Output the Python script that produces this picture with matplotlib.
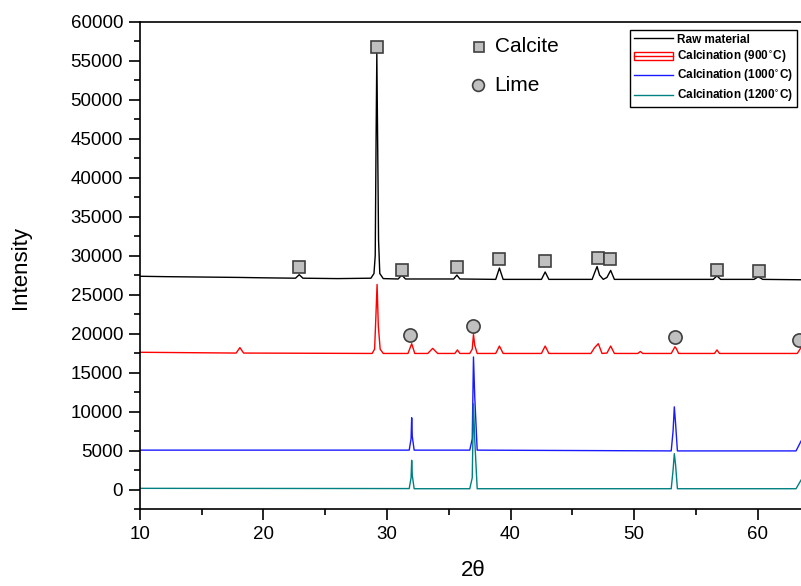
import matplotlib
matplotlib.use('Agg')
import matplotlib.pyplot as plt
from matplotlib.lines import Line2D
from matplotlib.patches import Patch
from matplotlib.legend_handler import HandlerTuple
from matplotlib.ticker import MultipleLocator

plt.rcParams['font.family'] = ['Liberation Sans', 'DejaVu Sans']

#data (2theta, intensity):
raw_x = [10, 12, 15, 18, 20, 22.6, 22.9, 23.2, 26, 28.7, 28.95, 29.05, 29.12, 29.18, 29.25, 29.32,
         29.42, 29.7, 30.9, 31.2, 31.5, 35.4, 35.66, 35.9, 38.8, 39.1, 39.4, 42.5, 42.8, 43.1,
         46.6, 46.85, 47.0, 47.2, 47.5, 47.8, 48.1, 48.4, 50, 56.4, 56.7, 57.0, 59.7, 60.0, 60.2,
         60.4, 63.5]
raw_y = [27350, 27300, 27250, 27200, 27150, 27100, 27550, 27100, 27050, 27100, 27700, 30000, 45000,
         55900, 44000, 32000, 27700, 27050, 27000, 27500, 27000, 27000, 27500, 27000, 26950, 28400,
         26950, 26950, 27900, 26950, 26950, 28000, 28600, 27500, 26950, 27200, 28100, 26950, 26950,
         26950, 27400, 26950, 26950, 27250, 27150, 26950, 26900]

c900_x = [10, 17.8, 18.1, 18.4, 28.8, 29.0, 29.1, 29.2, 29.3, 29.45, 29.7, 31.7, 32.0, 32.25, 33.3,
          33.7, 34.1, 35.5, 35.7, 35.9, 36.7, 36.9, 37.0, 37.1, 37.3, 38.8, 39.1, 39.4, 42.5, 42.8,
          43.1, 46.5, 46.8, 47.1, 47.4, 47.8, 48.1, 48.4, 50.3, 50.5, 50.7, 53.0, 53.3, 53.4, 53.6,
          56.5, 56.7, 56.9, 63.2, 63.5]
c900_y = [17600, 17500, 18200, 17500, 17450, 18000, 22000, 26300, 21000, 18000, 17450, 17450, 18700,
          17450, 17450, 18100, 17450, 17450, 17900, 17450, 17450, 18000, 19900, 18500, 17450, 17450,
          18400, 17450, 17450, 18400, 17450, 17450, 18200, 18700, 17450, 17500, 18400, 17450, 17450,
          17700, 17450, 17450, 18300, 18100, 17450, 17450, 17900, 17450, 17450, 18200]

c1000_x = [10, 31.8, 31.95, 32.0, 32.05, 32.2, 36.7, 36.9, 37.0, 37.1, 37.3, 53.0, 53.15, 53.25,
           53.35, 53.5, 63.1, 63.5]
c1000_y = [5050, 5050, 6500, 9200, 6800, 5050, 5050, 6500, 17000, 12000, 5050, 4950, 7500, 10600,
           8500, 4950, 4950, 6200]

c1200_x = [10, 31.8, 31.95, 32.0, 32.05, 32.2, 36.7, 36.9, 37.0, 37.1, 37.3, 53.0, 53.15, 53.25,
           53.35, 53.5, 63.1, 63.5]
c1200_y = [150, 120, 1500, 3750, 1800, 100, 100, 1500, 11000, 6500, 100, 100, 2500, 4600,
           3200, 100, 100, 1200]

#phase markers
calcite_x = [22.9, 29.2, 31.2, 35.66, 39.1, 42.8, 47.1, 48.05, 56.7, 60.1]
calcite_y = [28600, 56700, 28200, 28500, 29500, 29300, 29700, 29500, 28200, 28000]
lime_x = [31.9, 37.0, 53.3, 63.35]
lime_y = [19800, 21000, 19500, 19200]

labels = ['Raw material', 'Calcination (900$^{\\circ}$C)', 'Calcination (1000$^{\\circ}$C)',
          'Calcination (1200$^{\\circ}$C)']

fig = plt.figure(figsize=(8.01, 5.86), dpi=100)
ax = fig.add_axes([0.1745, 0.1314, 0.8255, 0.8316])

ax.plot(raw_x, raw_y, color='black', lw=1)
ax.plot(c900_x, c900_y, color='red', lw=1)
ax.plot(c1000_x, c1000_y, color='#1a1aff', lw=1)
ax.plot(c1200_x, c1200_y, color='#008080', lw=1)

mk = dict(ls='none', mfc='#c0c0c0', mec='#404040', mew=1.2, clip_on=False, zorder=5)
ax.plot(calcite_x, calcite_y, marker='s', ms=8, **mk)
ax.plot(lime_x, lime_y, marker='o', ms=9.5, **mk)

#phase key
ax.plot([0.5135], [0.9487], marker='s', ms=6.5, transform=ax.transAxes, **mk)
ax.plot([0.5115], [0.870], marker='o', ms=8.5, transform=ax.transAxes, **mk)
ax.text(0.5367, 0.9487, 'Calcite', transform=ax.transAxes, fontsize=15, va='center')
ax.text(0.5367, 0.870, 'Lime', transform=ax.transAxes, fontsize=15, va='center')

ax.set_xlim(10, 63.5)
ax.set_ylim(-2500, 60000)
ax.xaxis.set_major_locator(MultipleLocator(10))
ax.xaxis.set_minor_locator(MultipleLocator(5))
ax.yaxis.set_major_locator(MultipleLocator(5000))
ax.yaxis.set_minor_locator(MultipleLocator(2500))
ax.tick_params(which='major', direction='out', length=8, width=1.2, labelsize=13.5, pad=4)
ax.tick_params(which='minor', direction='out', length=4, width=1.2)
for s in ['left', 'bottom', 'top']:
    ax.spines[s].set_linewidth(1.2)
ax.spines['right'].set_visible(False)

ax.set_xlabel('2\u03b8', fontsize=16)
ax.set_ylabel('Intensity', fontsize=16)
ax.xaxis.set_label_coords(0.504, -0.105)
ax.yaxis.set_label_coords(-0.165, 0.495)

#legend
handles = [Line2D([], [], color='black', lw=1),
           (Patch(facecolor='none', edgecolor='red', lw=1), Line2D([], [], color='red', lw=1)),
           Line2D([], [], color='#1a1aff', lw=1),
           Line2D([], [], color='#008080', lw=1)]
leg = fig.legend(handles, labels, loc='upper right', bbox_to_anchor=(797 / 801, 1 - 30 / 586),
                 handler_map={tuple: HandlerTuple(ndivide=1)}, fancybox=False, framealpha=1,
                 edgecolor='black', borderaxespad=0, prop={'weight': 'bold', 'size': 8.5},
                 handlelength=3.3, labelspacing=0.28, borderpad=0.3, handletextpad=0.4)
leg.get_frame().set_linewidth(1)

fig.savefig('out.png', dpi=100)
